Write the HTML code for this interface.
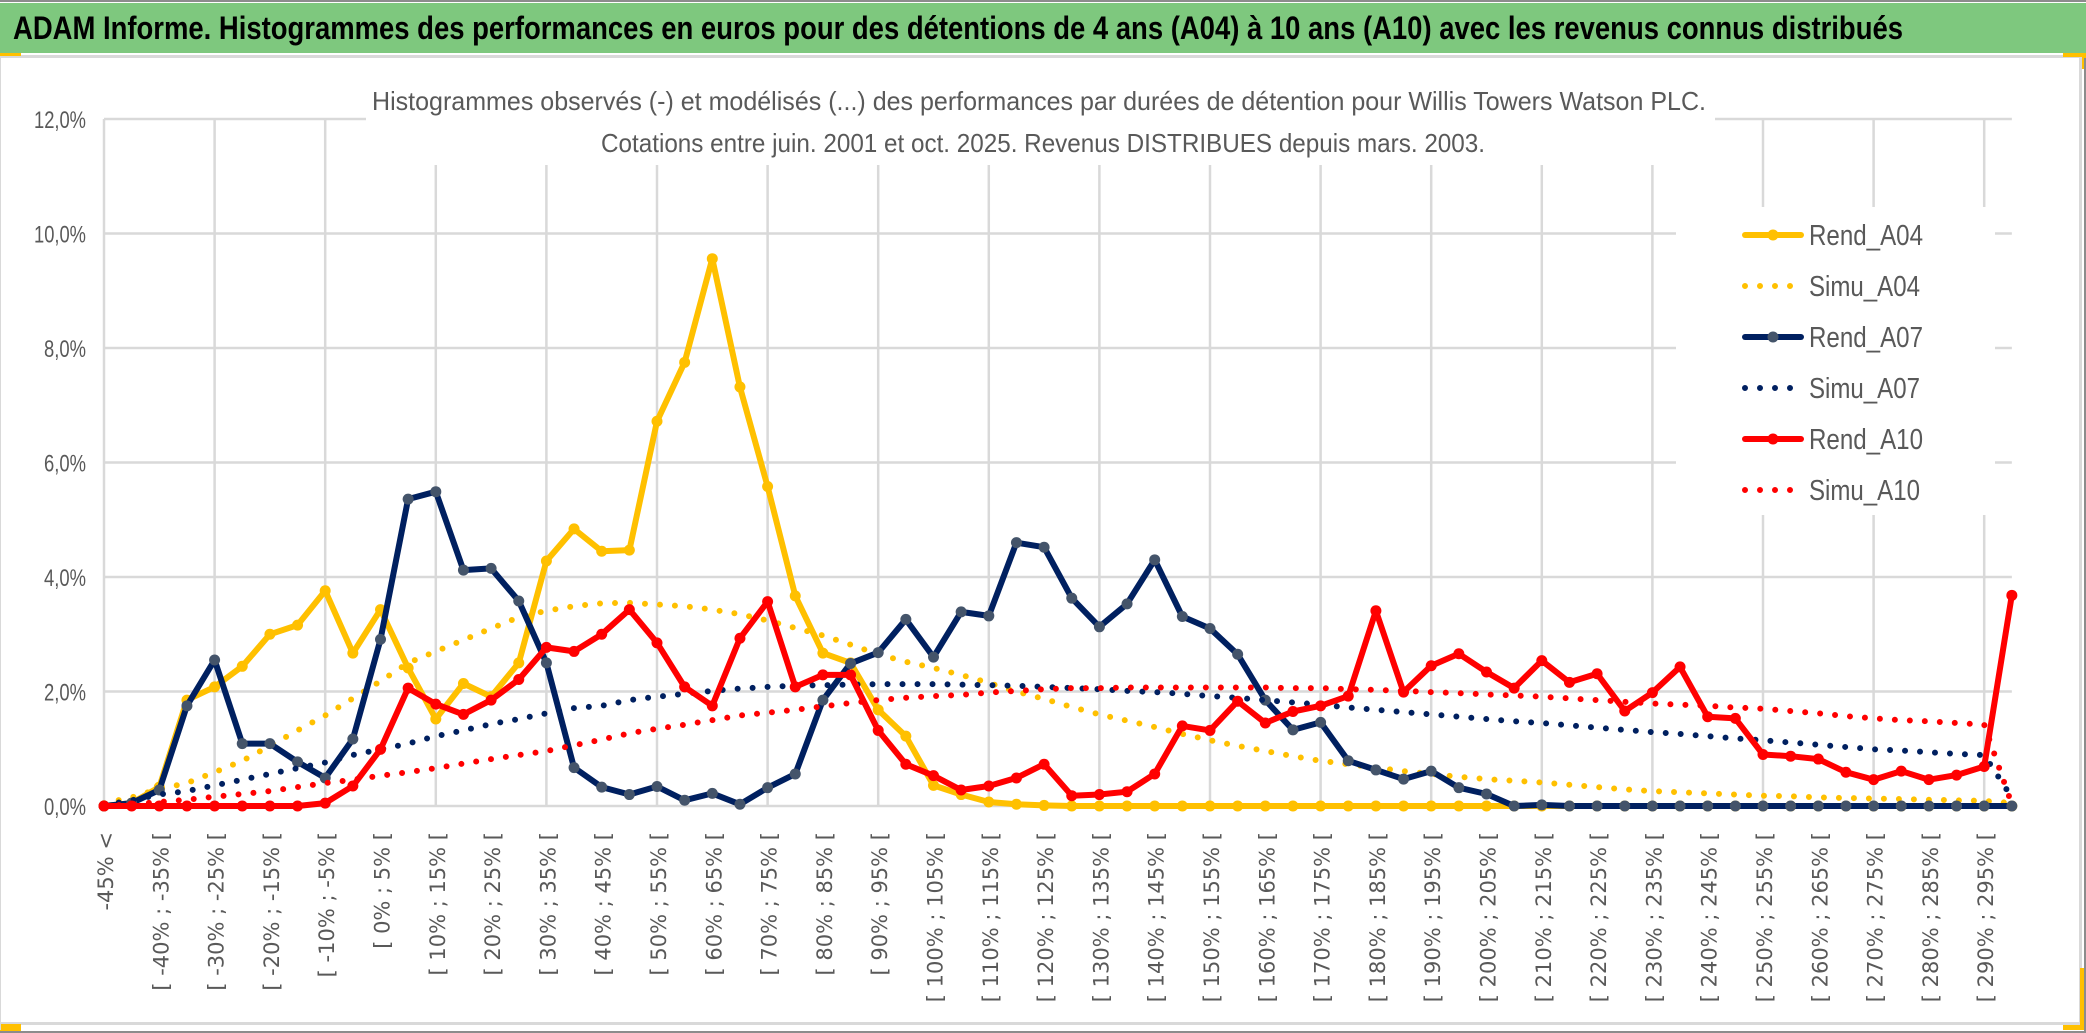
<!DOCTYPE html>
<html><head><meta charset="utf-8"><style>
html,body{margin:0;padding:0;background:#fff;width:2086px;height:1033px;overflow:hidden}
svg{display:block}
</style></head><body>
<svg id="chart" width="2086" height="1033" viewBox="0 0 2086 1033" xmlns="http://www.w3.org/2000/svg">
<rect x="0" y="0" width="2086" height="1033" fill="#fff"/>
<line x1="0" y1="1" x2="2086" y2="1" stroke="#8c8c8c" stroke-width="2"/>
<rect x="0" y="3" width="2086" height="50" fill="#7ec87e"/>
<text x="13" y="39" font-family="Liberation Sans, sans-serif" font-weight="bold" font-size="32" fill="#000" textLength="1890" lengthAdjust="spacingAndGlyphs">ADAM Informe. Histogrammes des performances en euros pour des détentions de 4 ans (A04) à 10 ans (A10) avec les revenus connus distribués</text>
<rect x="0" y="55" width="2086" height="3" fill="#d9d9d9"/>
<rect x="0" y="53" width="21" height="3" fill="#ffc000"/>
<rect x="2063" y="53" width="23" height="4" fill="#ffc000"/>
<rect x="2082" y="53" width="4" height="16" fill="#ffc000"/>
<rect x="0" y="1022" width="2082" height="3" fill="#d9d9d9"/>
<rect x="2079" y="58" width="3" height="967" fill="#d9d9d9"/>
<rect x="0" y="1031" width="2086" height="2" fill="#8c8c8c"/>
<rect x="2084" y="58" width="2" height="975" fill="#8c8c8c"/>
<rect x="0" y="1024" width="21" height="7" fill="#ffc000"/>
<rect x="2080" y="968" width="4" height="62" fill="#ffc000"/>
<rect x="2063" y="1025" width="21" height="5" fill="#ffc000"/>
<line x1="0.5" y1="58" x2="0.5" y2="1030" stroke="#d9d9d9" stroke-width="1"/>
<g id="grid"></g>
<rect x="366" y="70" width="1349" height="95" fill="#fff"/>
<text x="372" y="110" font-family="Liberation Sans, sans-serif" font-size="26" fill="#595959" textLength="1334" lengthAdjust="spacingAndGlyphs">Histogrammes observés (-) et modélisés (...) des performances par durées de détention pour Willis Towers Watson PLC.</text>
<text x="601" y="152" font-family="Liberation Sans, sans-serif" font-size="26" fill="#595959" textLength="884" lengthAdjust="spacingAndGlyphs">Cotations entre juin. 2001 et oct. 2025. Revenus DISTRIBUES depuis mars. 2003.</text>
<rect x="1676" y="207" width="319" height="308" fill="#fff"/>
<g id="yaxis"></g>
<g id="xaxis"></g>
<g id="series"></g>
<g id="legend"></g>
</svg>
<script>
const yTicks = [0, 2, 4, 6, 8, 10, 12];
const yTickLabels = ["0,0%", "2,0%", "4,0%", "6,0%", "8,0%", "10,0%", "12,0%"];
const rendA04 = [0,0.05,0.33,1.85,2.08,2.44,3.0,3.16,3.76,2.67,3.43,2.41,1.52,2.14,1.91,2.5,4.28,4.84,4.45,4.47,6.72,7.75,9.56,7.32,5.58,3.67,2.67,2.5,1.68,1.22,0.36,0.2,0.07,0.03,0.01,0,0,0,0,0,0,0,0,0,0,0,0,0,0,0,0,0,0,0,0,0,0,0,0,0,0,0,0,0,0,0,0,0,0,0];
const simuA04 = [0.05,0.15,0.3,0.4,0.59,0.79,1.05,1.32,1.58,1.88,2.18,2.5,2.7,2.9,3.1,3.3,3.41,3.49,3.54,3.55,3.52,3.49,3.43,3.35,3.24,3.11,2.98,2.82,2.65,2.52,2.41,2.29,2.15,2.0,1.87,1.73,1.6,1.49,1.38,1.26,1.15,1.05,0.96,0.87,0.79,0.73,0.67,0.61,0.56,0.51,0.47,0.44,0.41,0.37,0.33,0.29,0.26,0.24,0.22,0.2,0.18,0.17,0.15,0.14,0.13,0.12,0.11,0.1,0.09,0.05];
const rendA07 = [0,0.05,0.28,1.75,2.55,1.09,1.09,0.77,0.49,1.17,2.91,5.36,5.49,4.12,4.15,3.58,2.5,0.67,0.33,0.2,0.34,0.1,0.22,0.03,0.32,0.56,1.85,2.49,2.68,3.26,2.6,3.39,3.32,4.6,4.52,3.63,3.13,3.53,4.3,3.31,3.1,2.65,1.85,1.33,1.46,0.79,0.63,0.47,0.61,0.32,0.21,0,0.02,0,0,0,0,0,0,0,0,0,0,0,0,0,0,0,0,0];
const simuA07 = [0.02,0.1,0.2,0.26,0.36,0.46,0.56,0.66,0.76,0.89,0.99,1.09,1.22,1.32,1.43,1.52,1.62,1.71,1.75,1.85,1.91,1.96,2.01,2.05,2.08,2.1,2.11,2.12,2.13,2.13,2.13,2.12,2.11,2.1,2.08,2.06,2.04,2.01,1.99,1.96,1.92,1.89,1.85,1.81,1.77,1.72,1.68,1.64,1.6,1.56,1.52,1.48,1.45,1.41,1.37,1.33,1.29,1.26,1.22,1.18,1.15,1.11,1.07,1.03,0.99,0.97,0.94,0.91,0.89,0.15];
const rendA10 = [0,0,0,0,0,0,0,0,0.05,0.35,0.99,2.06,1.78,1.6,1.85,2.21,2.77,2.7,3.0,3.43,2.85,2.08,1.75,2.93,3.57,2.08,2.29,2.29,1.32,0.73,0.53,0.28,0.35,0.49,0.73,0.18,0.2,0.25,0.56,1.4,1.32,1.83,1.45,1.65,1.75,1.92,3.41,1.99,2.45,2.66,2.34,2.06,2.54,2.16,2.31,1.66,1.98,2.43,1.56,1.53,0.9,0.87,0.82,0.59,0.46,0.61,0.46,0.54,0.69,3.68];
const simuA10 = [0,0.03,0.07,0.11,0.16,0.21,0.26,0.33,0.4,0.46,0.53,0.59,0.66,0.74,0.82,0.89,0.96,1.06,1.16,1.27,1.35,1.42,1.5,1.58,1.63,1.68,1.74,1.8,1.85,1.89,1.92,1.94,1.98,2.01,2.04,2.06,2.06,2.07,2.07,2.07,2.07,2.07,2.07,2.06,2.06,2.04,2.03,2.01,1.99,1.97,1.95,1.93,1.91,1.88,1.85,1.82,1.79,1.77,1.75,1.72,1.7,1.66,1.62,1.57,1.53,1.5,1.48,1.45,1.42,0.03];
const seriesNames = ["Rend_A04","Simu_A04","Rend_A07","Simu_A07","Rend_A10","Simu_A10"];

const categories = ["-45% <"];
for (let lo = -45; lo < 300; lo += 5) categories.push("[ " + lo + "% ; " + (lo + 5) + "% [");

const NS = "http://www.w3.org/2000/svg";
const X0 = 104, STEP = 27.65, Y0 = 806, YPER = 57.25;
function xAt(i){ return X0 + i * STEP; }
function yAt(v){ return Y0 - v * YPER; }
function mk(tag, attrs, parent){
  const e = document.createElementNS(NS, tag);
  for (const k in attrs) e.setAttribute(k, attrs[k]);
  parent.appendChild(e); return e;
}
const grid = document.getElementById("grid");
const n = categories.length;
yTicks.forEach(function(t){
  const l = mk("line", {x1: xAt(0), x2: xAt(n - 1), y1: yAt(t), y2: yAt(t), stroke: "#d9d9d9", "stroke-width": 2.5}, grid);
  
  
});
for (let i = 0; i < n; i += 4) {
  const l = mk("line", {x1: xAt(i), x2: xAt(i), y1: yAt(12), y2: yAt(0), stroke: "#d9d9d9", "stroke-width": 2.5}, grid);
  
  
}
const yaxis = document.getElementById("yaxis");
yTicks.forEach(function(t, k){
  const tx = mk("text", {x: 86, y: yAt(t) + 9, "text-anchor": "end", "font-family": "Liberation Sans, sans-serif", "font-size": 24, fill: "#595959", textLength: yTickLabels[k].length > 4 ? 52 : 42, lengthAdjust: "spacingAndGlyphs"}, yaxis);
  tx.textContent = yTickLabels[k];
  
  
});
const xaxis = document.getElementById("xaxis");
for (let i = 0; i < n; i += 2) {
  const cx = xAt(i) + 9, cy = 832;
  const tx = mk("text", {x: cx, y: cy, "text-anchor": "end", transform: "rotate(-90 " + cx + " " + cy + ")", "font-family": "DejaVu Sans, sans-serif", "font-size": 21, fill: "#595959"}, xaxis);
  tx.textContent = categories[i];
  
  
}
const sg = document.getElementById("series");
function solid(vals, color, mcolor, name){
  const g = mk("g", {}, sg);
  
  
  const pts = vals.map(function(v, i){ return xAt(i).toFixed(1) + "," + yAt(v).toFixed(1); }).join(" ");
  mk("polyline", {points: pts, fill: "none", stroke: color, "stroke-width": 6, "stroke-linejoin": "round"}, g);
  vals.forEach(function(v, i){
    const c = mk("circle", {cx: xAt(i), cy: yAt(v), r: 5.5, fill: mcolor}, g);
    
    
  });
}
function dotted(vals, color, name){
  const pts = vals.map(function(v, i){ return xAt(i).toFixed(1) + "," + yAt(v).toFixed(1); }).join(" ");
  const p = mk("polyline", {points: pts, fill: "none", stroke: color, "stroke-width": 6, "stroke-linecap": "round", "stroke-dasharray": "0 15"}, sg);
  
  
}
solid(rendA04, "#ffc000", "#ffc000", "rend-a04-line");
dotted(simuA04, "#ffc000", "simu-a04-line");
solid(rendA07, "#002060", "#44546a", "rend-a07-line");
dotted(simuA07, "#002060", "simu-a07-line");
solid(rendA10, "#ff0000", "#ff0000", "rend-a10-line");
dotted(simuA10, "#ff0000", "simu-a10-line");

const lg = document.getElementById("legend");
const lcolors = ["#ffc000","#ffc000","#002060","#002060","#ff0000","#ff0000"];
const lmark = ["#ffc000",null,"#44546a",null,"#ff0000",null];
seriesNames.forEach(function(nm, k){
  const y = 235 + k * 51;
  const g = mk("g", {}, lg);
  
  
  if (lmark[k]) {
    mk("line", {x1: 1745, x2: 1801, y1: y, y2: y, stroke: lcolors[k], "stroke-width": 6, "stroke-linecap": "round"}, g);
    mk("circle", {cx: 1773, cy: y, r: 5.5, fill: lmark[k]}, g);
  } else {
    mk("line", {x1: 1745, x2: 1802, y1: y, y2: y, stroke: lcolors[k], "stroke-width": 6, "stroke-linecap": "round", "stroke-dasharray": "0 15"}, g);
  }
  const t = mk("text", {x: 1809, y: y + 10, "font-family": "Liberation Sans, sans-serif", "font-size": 29, fill: "#595959", textLength: nm.indexOf("Rend") === 0 ? 114 : 111, lengthAdjust: "spacingAndGlyphs"}, g);
  t.textContent = nm;
});
</script>
</body></html>
